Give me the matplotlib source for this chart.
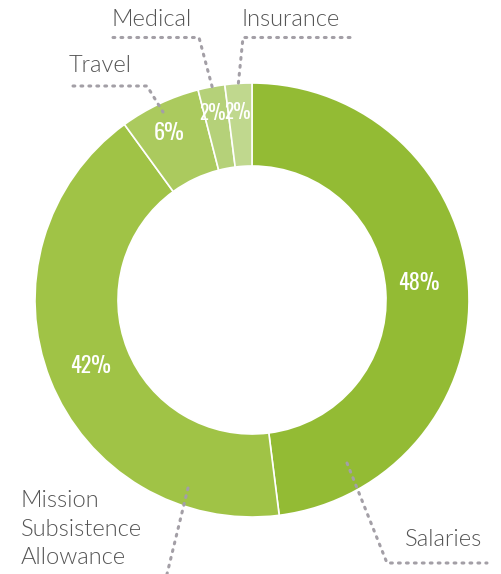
import matplotlib.pyplot as plt

# Budget breakdown
labels = ['Salaries', 'Mission\nSubsistence\nAllowance', 'Travel', 'Medical', 'Insurance']
values = [48, 42, 6, 2, 2]
colors = ['#93bb34', '#a0c346', '#abca5e', '#b5d179', '#c0d88e']

W, H = 501, 574
fig = plt.figure(figsize=(W / 100, H / 100), dpi=100)
ax = fig.add_axes([0, 0, 1, 1])

def py(y):
    # pixel row -> data y
    return H - y

cx, cy, r_out, r_in = 252, py(300), 217, 134
ax.pie(values, center=(cx, cy), radius=r_out, startangle=90,
       counterclock=False, colors=colors,
       wedgeprops=dict(width=r_out - r_in, edgecolor='white', linewidth=1.2),
       frame=True)
ax.set_xlim(0, W)
ax.set_ylim(0, H)
ax.set_aspect('equal')
ax.axis('off')

# percent labels
pct_pos = [(419, 283), (91, 366), (169, 133), (212.5, 113), (237.5, 112)]
pct_size = [16, 16, 16, 14, 14]
for v, (x, y), s in zip(values, pct_pos, pct_size):
    ax.text(x, py(y), f'{v}%', ha='center', va='center', color='white',
            fontsize=s, fontweight=600, family=['Oswald', 'DejaVu Sans'])

# category labels with dotted leaders
lab_style = dict(fontsize=17, color='#555555', fontweight=300, family=['Lato', 'DejaVu Sans'])
lead = dict(color='#a39fa6', linestyle=(0, (0.6, 2.0)), linewidth=2.2,
            dash_capstyle='round', solid_capstyle='round')

ax.text(405, py(540), labels[0], ha='left', va='center', **lab_style)
ax.plot([347, 387, 487], [py(463), py(563), py(563)], **lead)

ax.text(21, py(529), labels[1], ha='left', va='center', linespacing=1.45, **lab_style)
ax.plot([188, 167], [py(488), py(574)], **lead)

ax.text(69, py(66), labels[2], ha='left', va='center', **lab_style)
ax.plot([73, 147, 163], [py(86), py(86), py(112)], **lead)

ax.text(112, py(19), labels[3], ha='left', va='center', **lab_style)
ax.plot([113, 199, 213], [py(37.5), py(37.5), py(90)], **lead)

ax.text(242, py(19), labels[4], ha='left', va='center', **lab_style)
ax.plot([350, 243, 238], [py(37.5), py(37.5), py(87)], **lead)

fig.savefig('out.png', dpi=100)
